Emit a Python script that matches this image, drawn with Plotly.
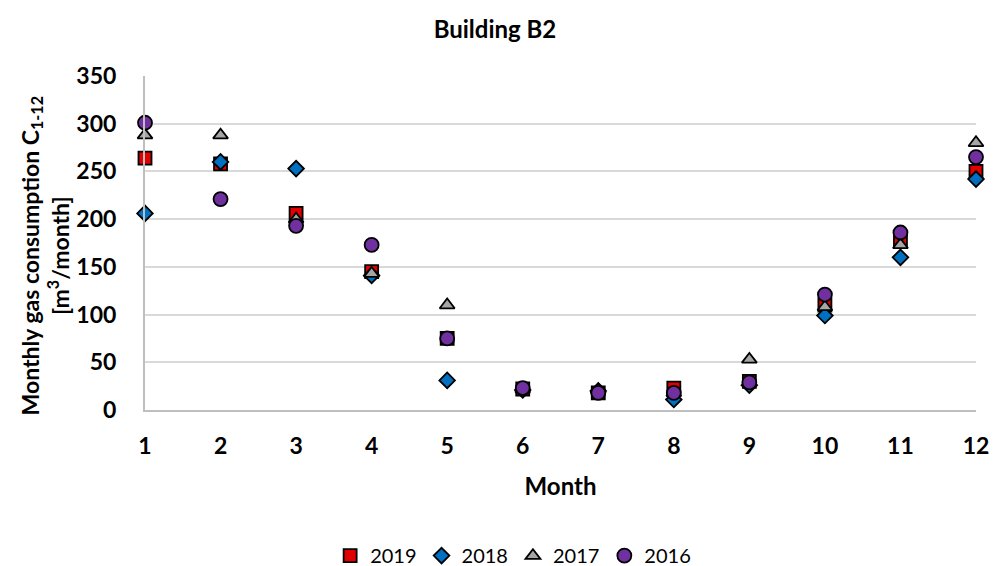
import plotly.graph_objects as go

months = list(range(1, 13))
tick_labels = [str(m) for m in months]
y_ticks = [0, 50, 100, 150, 200, 250, 300, 350]
c2019 = [264, 258, 206, 145, 75, 22, 18, 23, 30, 110, 178, 250]
c2018 = [206, 260, 253, 141, 31, 21, 20, 11, 26, 99, 160, 242]
c2017 = [288, 288, 200, 143, 110, 22, 21, 18, 53, 108, 173, 280]
c2016 = [301, 221, 193, 173, 75, 23, 18, 18, 29, 121, 186, 265]

series = [
    ("2019", c2019, "square", "#E00000", 13),
    ("2018", c2018, "diamond", "#0070C0", 12),
    ("2017", c2017, "triangle-up", "#A6A6A6", 13),
    ("2016", c2016, "circle", "#7030A0", 14),
]

FONT = "Lato, 'Open Sans', sans-serif"

fig = go.Figure()
for name, vals, sym, col, sz in series:
    fig.add_trace(go.Scatter(
        x=months, y=vals, mode="markers", name=name,
        marker=dict(symbol=sym, color=col, size=sz,
                    line=dict(color="black", width=1.8)),
        cliponaxis=False,
    ))

fig.update_layout(
    width=993, height=558,
    paper_bgcolor="white", plot_bgcolor="white",
    margin=dict(l=137, r=25, t=68, b=156, autoexpand=False),
    title=dict(text="<b>Building B2</b>", x=0.4904, xanchor="center",
               y=0.9606, yanchor="middle",
               font=dict(family=FONT, size=24, color="black")),
    font=dict(family=FONT, color="black"),
    xaxis=dict(range=[1, 12], tickmode="array", tickvals=months,
               ticktext=[f"<b>{t}</b>" for t in tick_labels],
               tickfont=dict(size=23, family=FONT), showgrid=False,
               zeroline=False, showline=True, linecolor="#BFBFBF", linewidth=2,
               ticks="", ticklen=0, ticklabelstandoff=14,
               title=dict(text="<b>Month</b>", font=dict(size=24, family=FONT),
                          standoff=21)),
    yaxis=dict(range=[0, 350], tickmode="array", tickvals=y_ticks,
               ticktext=[f"<b>{v}</b>" for v in y_ticks],
               tickfont=dict(size=23, family=FONT), showgrid=True,
               gridcolor="#D9D9D9", gridwidth=1.5, zeroline=False,
               showline=True, linecolor="#BFBFBF", linewidth=2,
               ticks="", ticklen=0, ticklabelstandoff=22),
    legend=dict(orientation="h", x=0.443, xanchor="center", y=-0.436, yanchor="middle",
                font=dict(size=20, family=FONT), itemwidth=30, tracegroupgap=0),
    annotations=[dict(
        text="<b>Monthly gas consumption C<sub>1-12</sub><br>[m<sup>3</sup>/month]</b>",
        xref="paper", yref="paper", x=-0.1203, y=0.46,
        xanchor="center", yanchor="middle", textangle=-90, showarrow=False,
        font=dict(size=23, family=FONT, color="black"))],
)

fig.write_html("out.html")
